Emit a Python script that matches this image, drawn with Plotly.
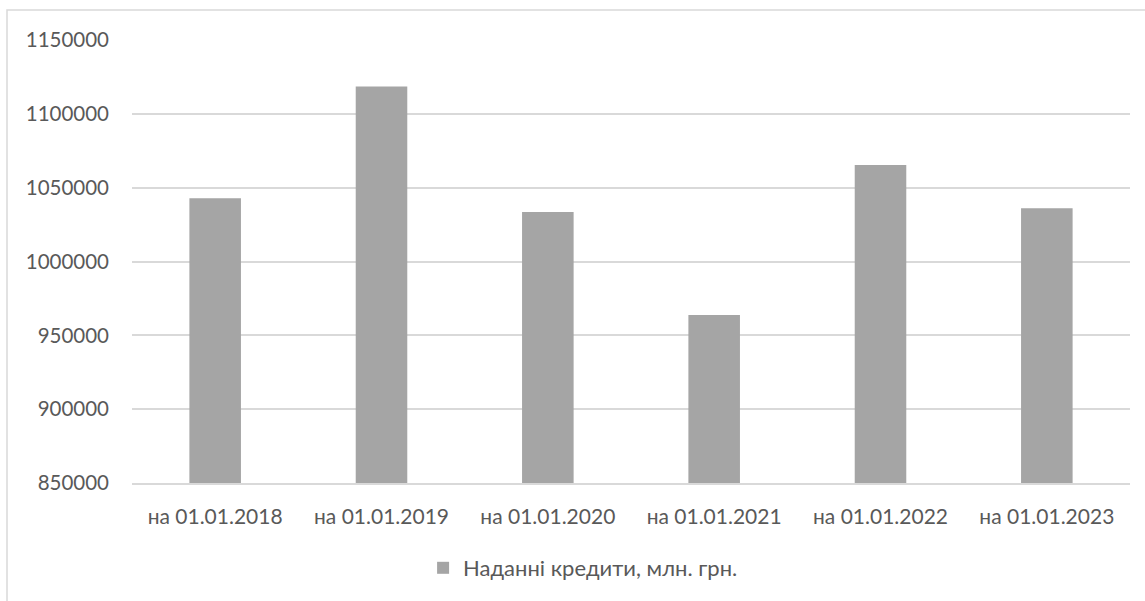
import plotly.graph_objects as go

# Loans issued by date, UAH million
categories = ["на 01.01.2018", "на 01.01.2019", "на 01.01.2020",
              "на 01.01.2021", "на 01.01.2022", "на 01.01.2023"]
loans = [1042800, 1118500, 1033500, 963800, 1065400, 1036000]
series_name = "Наданні кредити, млн. грн."

y_ticks = [850000, 900000, 950000, 1000000, 1050000, 1100000, 1150000]

W, H = 1145, 601
L, R, T, B = 132, 15, 40, 118
plot_w = W - L - R
plot_h = H - T - B

text_color = "#595959"
grid_color = "#d9d9d9"
font_family = "Lato, Roboto, Arial, sans-serif"
font_size = 21

fig = go.Figure()
fig.add_trace(go.Bar(
    x=categories,
    y=loans,
    name=series_name,
    marker=dict(color="#a5a5a5", line=dict(width=0)),
    showlegend=True,
))

# Outer chart frame (light grey border)
fig.add_shape(
    type="rect", xref="paper", yref="paper",
    x0=(7 - L) / plot_w, x1=1 + (R + 20) / plot_w,
    y0=-(B + 20) / plot_h, y1=1 + (T - 10) / plot_h,
    line=dict(color=grid_color, width=1.5),
    fillcolor="rgba(0,0,0,0)",
    layer="below",
)

fig.update_layout(
    width=W, height=H,
    margin=dict(l=L, r=R, t=T, b=B, pad=0),
    paper_bgcolor="white",
    plot_bgcolor="white",
    bargap=0.69,
    font=dict(family=font_family, size=font_size, color=text_color),
    xaxis=dict(
        showgrid=False,
        showline=True, linecolor=grid_color, linewidth=1.5,
        ticks="", ticklabelstandoff=14,
        tickfont=dict(family=font_family, size=font_size, color=text_color),
    ),
    yaxis=dict(
        range=[850000, 1150000],
        tickvals=y_ticks,
        ticktext=[str(v) for v in y_ticks],
        showgrid=True, gridcolor=grid_color, gridwidth=1.5,
        zeroline=False, showline=False,
        ticks="", ticklabelstandoff=22,
        tickfont=dict(family=font_family, size=20.5, color=text_color),
    ),
    legend=dict(
        orientation="h",
        x=0.452, xanchor="center",
        y=-(568 - (H - B)) / plot_h, yanchor="middle",
        font=dict(family=font_family, size=22, color=text_color),
        itemwidth=30,
        bgcolor="rgba(0,0,0,0)",
    ),
)

fig.write_html("out.html")
